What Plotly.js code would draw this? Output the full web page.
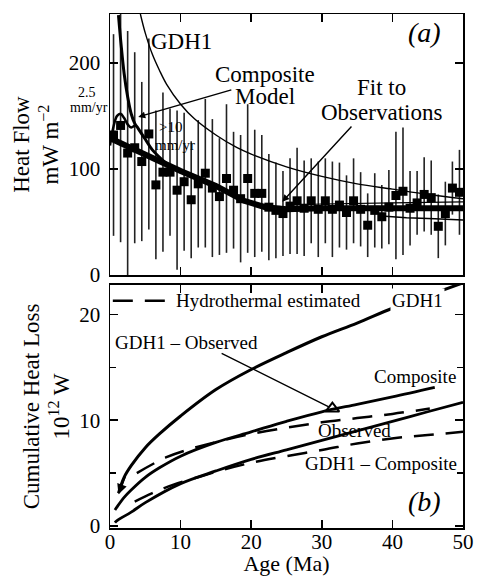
<!DOCTYPE html>
<html>
<head>
<meta charset="utf-8">
<script src="https://cdn.plot.ly/plotly-3.0.1.min.js"></script>
<style>html,body{margin:0;padding:0;background:#fff;}#chart{width:481px;height:576px;}</style>
</head>
<body>
<div id="chart"></div>
<script>
// ---- Panel (a): heat flow observations (binned) ----
const obsAge = [0.5,1.5,2.5,3.5,4.5,5.5,6.5,7.5,8.5,9.5,10.5,11.5,12.5,13.5,14.5,15.5,16.5,17.5,18.5,19.5,20.5,21.5,22.5,23.5,24.5,25.5,26.5,27.5,28.5,29.5,30.5,31.5,32.5,33.5,34.5,35.5,36.5,37.5,38.5,39.5,40.5,41.5,42.5,43.5,44.5,45.5,46.5,47.5,48.5,49.5];
const obsHeat = [132,141,115,120,107,133,85,97,97,80,88,71,86,96,82,74,91,80,72,91,77,77,64,61,58,65,70,63,70,62,70,62,66,59,70,62,47,61,55,64,75,79,63,68,76,73,46,58,82,78];
const obsErr = [95,110,115,90,75,90,70,75,60,75,65,55,60,70,65,55,70,55,60,70,60,55,50,45,40,45,50,45,40,45,40,45,40,35,40,35,30,35,30,35,60,60,35,30,35,35,30,30,25,40];

// GDH1 plate model heat flow
const gdhAge = [4.3,5,6,7,8,10,12,15,18,20,25,30,35,40,45,50];
const gdhHeat = [246,228,208,193,180,161,147,132,120,114,102,93,86,81,76,72];

// Fit to observations
const fitAge = [0,5,10,15,19,22,25,30,40,50];
const fitHeat = [129,113,98,84,70,64,62,63,63,63];

// Composite model (>10 mm/yr branch)
const compAge = [1.2,1.6,2,2.5,3,3.5,4,5,6,8];
const compHeat = [245,215,190,168,152,143,138,128,118,105];
// Composite model 2.5 mm/yr branch
const slowAge = [0,0.5,1,1.5,2,2.5,3,3.5];
const slowHeat = [122,140,150,152,148,142,139,141];
// Composite model envelopes at older ages
const envUpAge = [25,30,40,50];
const envUpHeat = [66,67,68,69];
const envLoAge = [38,42,46,50];
const envLoHeat = [56,54,53,52];

// ---- Panel (b): cumulative heat loss ----
const cGdhAge = [1.2,2,3,5,7,10,15,20,25,30,35,40,45,50];
const cGdhVal = [3.1,4.6,5.7,7.4,8.7,10.4,12.9,14.8,16.4,17.9,19.2,20.6,21.8,23.0];
const cCompAge = [0.7,1,2,3,5,7,10,15,20,25,30,35,40,46];
const cCompVal = [1.5,1.8,2.7,3.4,4.6,5.5,6.6,7.9,8.9,9.9,10.8,11.5,12.2,13.1];
const cDiffAge = [0.7,1,3,5,10,15,20,25,30,35,40,45,50];
const cDiffVal = [0.3,0.5,1.3,2.2,4.0,5.2,6.3,7.2,8.1,9.0,9.9,10.8,11.7];
const cObsAge = [3.8,8,12,16,20,25,30,35,40,45.3];
const cObsVal = [5.0,6.5,7.4,8.1,8.7,9.3,9.8,10.2,10.6,11.1];
const cObsDiffAge = [3.5,6,9,12.7,16,20.2,25,30.2,35,40.2,45,50];
const cObsDiffVal = [2.3,3.1,3.9,4.65,5.3,6.0,6.6,7.2,7.8,8.3,8.6,8.9];
const triAge = [31.5];
const triVal = [11.1];

const xTicks = [0,10,20,30,40,50];
const yTicksA = [0,100,200];
const yTicksB = [0,10,20];

const F = "Liberation Serif";
const black = "#000";

const traces = [
  {x: obsAge, y: obsHeat, type:'scatter', mode:'markers', xaxis:'x', yaxis:'y',
   marker:{symbol:'square', size:9, color:black},
   error_y:{type:'data', array:obsErr, visible:true, color:'#222', thickness:1.6, width:0}},
  {x: gdhAge, y: gdhHeat, type:'scatter', mode:'lines', xaxis:'x', yaxis:'y', line:{color:black, width:1.4, shape:'spline'}},
  {x: fitAge, y: fitHeat, type:'scatter', mode:'lines', xaxis:'x', yaxis:'y', line:{color:black, width:6}},
  {x: compAge, y: compHeat, type:'scatter', mode:'lines', xaxis:'x', yaxis:'y', line:{color:black, width:3, shape:'spline'}},
  {x: slowAge, y: slowHeat, type:'scatter', mode:'lines', xaxis:'x', yaxis:'y', line:{color:black, width:2.5, shape:'spline'}},
  {x: envUpAge, y: envUpHeat, type:'scatter', mode:'lines', xaxis:'x', yaxis:'y', line:{color:black, width:1.2}},
  {x: envLoAge, y: envLoHeat, type:'scatter', mode:'lines', xaxis:'x', yaxis:'y', line:{color:black, width:1.5}},

  {x: cGdhAge, y: cGdhVal, type:'scatter', mode:'lines', xaxis:'x2', yaxis:'y2', line:{color:black, width:3, shape:'spline'}},
  {x: cCompAge, y: cCompVal, type:'scatter', mode:'lines', xaxis:'x2', yaxis:'y2', line:{color:black, width:2.8, shape:'spline'}},
  {x: cDiffAge, y: cDiffVal, type:'scatter', mode:'lines', xaxis:'x2', yaxis:'y2', line:{color:black, width:2.8, shape:'spline'}},
  {x: cObsAge, y: cObsVal, type:'scatter', mode:'lines', xaxis:'x2', yaxis:'y2', line:{color:black, width:2.5, dash:'20px,12px', shape:'spline'}},
  {x: cObsDiffAge, y: cObsDiffVal, type:'scatter', mode:'lines', xaxis:'x2', yaxis:'y2', line:{color:black, width:2.5, dash:'20px,12px', shape:'spline'}},
  {x: triAge, y: triVal, type:'scatter', mode:'markers', xaxis:'x2', yaxis:'y2', marker:{symbol:'triangle-up-open', size:12, color:black, line:{width:2, color:black}}}
];

const axisCommon = {
  showgrid:false, zeroline:false, showline:true, linecolor:black, linewidth:1.5,
  mirror:'ticks', ticks:'inside', ticklen:8, tickwidth:1.5, tickcolor:black,
  tickfont:{family:F, size:21, color:black}
};

function ann(text, x, y, size, ref, extra) {
  return Object.assign({text:text, x:x, y:y, xref:ref[0], yref:ref[1], showarrow:false,
    font:{family:F, size:size, color:black}}, extra||{});
}
const A = ['x','y'], B = ['x2','y2'];

const layout = {
  width:481, height:576,
  margin:{l:110, r:18, t:14, b:48},
  paper_bgcolor:'#fff', plot_bgcolor:'#fff',
  showlegend:false,
  xaxis: Object.assign({}, axisCommon, {domain:[0,1], range:[0,50], anchor:'y', tickvals:[10,20,30,40], showticklabels:false}),
  yaxis: Object.assign({}, axisCommon, {domain:[0.492,1], range:[0,246], anchor:'x', tickvals:yTicksA, ticklabelstandoff:4,
    title:{text:'Heat Flow<br>mW m<sup>\u22122</sup>', font:{family:F, size:23, color:black}, standoff:3}}),
  xaxis2: Object.assign({}, axisCommon, {domain:[0,1], range:[0,50], anchor:'y2', tickvals:xTicks, ticklabelstandoff:-6,
    title:{text:'Age (Ma)', font:{family:F, size:22, color:black}, standoff:0}}),
  yaxis2: Object.assign({}, axisCommon, {domain:[0,0.4728], range:[-0.2,22.8], anchor:'x2', tickvals:yTicksB, ticklabelstandoff:4,
    minor:{tickvals:[5,15], ticks:'inside', ticklen:6, tickcolor:black, tickwidth:1.5},
    title:{text:'Cumulative Heat Loss<br>10<sup>12</sup> W', font:{family:F, size:23, color:black}, standoff:3}}),
  shapes:[
    {type:'line', xref:'x2', yref:'y2', x0:0.4, x1:9.0, y0:21.3, y1:21.3, line:{color:black, width:2.5, dash:'20px,12px'}}
  ],
  annotations:[
    ann('GDH1', 10.1, 220, 23, A),
    ann('<i>(a)</i>', 44.6, 229, 28, A),
    ann('Composite', 22, 188.7, 23, A),
    ann('Model', 22, 168, 23, A),
    ann('Fit to', 38.4, 176.4, 23, A),
    ann('Observations', 38.4, 152.8, 23, A),
    ann('2.5', -0.064, 171.7, 14, ['paper','y'], {xanchor:'center'}),
    ann('mm/yr', -0.06, 157.5, 14, ['paper','y'], {xanchor:'center'}),
    ann('&gt;10', 8.5, 140, 15, A),
    ann('mm/yr', 9.2, 122.6, 15, A),
    {x:4, y:149, ax:17.4, ay:175, xref:'x', yref:'y', axref:'x', ayref:'y', text:'', showarrow:true, arrowhead:2, arrowsize:1, arrowwidth:1.4, arrowcolor:black},
    {x:24.4, y:69, ax:34.4, ay:141.5, xref:'x', yref:'y', axref:'x', ayref:'y', text:'', showarrow:true, arrowhead:2, arrowsize:1, arrowwidth:1.4, arrowcolor:black},

    ann('Hydrothermal estimated', 22.5, 21.3, 19, B),
    ann('GDH1', 43.6, 21.3, 19, B, {bgcolor:'#fff'}),
    ann('GDH1 \u2013 Observed', 10.8, 17.4, 19, B),
    ann('Composite', 43.2, 14.1, 19, B),
    ann('Observed', 34.7, 9.06, 19, B),
    ann('GDH1 \u2013 Composite', 38.4, 5.9, 19, B),
    ann('<i>(b)</i>', 44.5, 2.3, 28, B),
    {x:31.5, y:11.1, ax:15.6, ay:16.4, xref:'x2', yref:'y2', axref:'x2', ayref:'y2', text:'', showarrow:true, arrowhead:0, arrowwidth:1.4, arrowcolor:black, standoff:4},
    {x:1.2, y:3.0, ax:2.2, ay:4.8, xref:'x2', yref:'y2', axref:'x2', ayref:'y2', text:'', showarrow:true, arrowhead:2, arrowsize:1, arrowwidth:2, arrowcolor:black}
  ]
};

Plotly.newPlot('chart', traces, layout, {staticPlot:true});
</script>
</body>
</html>
